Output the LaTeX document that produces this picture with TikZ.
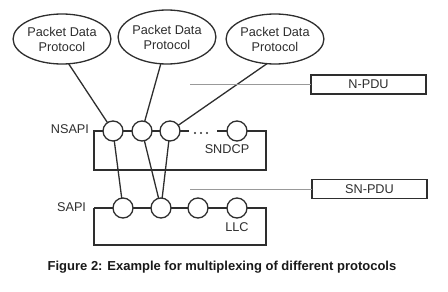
\documentclass[tikz,border=0pt]{standalone}
\usepackage{fontspec}
\setmainfont{Liberation Sans}
\usetikzlibrary{shapes.geometric}
\definecolor{ln}{HTML}{2E2E2E}
\definecolor{gl}{HTML}{999999}
\begin{document}
\begin{tikzpicture}[x=1pt,y=-1pt,
  every node/.style={inner sep=0pt, outer sep=0pt, text=black!82},
  pdp/.style={ellipse, draw=ln, line width=1.3pt, fill=white, minimum width=92pt, minimum height=50pt, align=center, font=\fontsize{12.7}{15}\selectfont},
  sap/.style={circle, draw=ln, line width=1.3pt, fill=white, minimum size=20pt},
  lbl/.style={font=\fontsize{12.7}{15}\selectfont},
  pdu/.style={draw=ln, line width=1.1pt, minimum width=115pt, minimum height=19pt, font=\fontsize{12.7}{15}\selectfont},
  con/.style={draw=ln, line width=1.3pt},
  dotc/.style={circle, fill=ln, minimum size=2.2pt},
  glin/.style={draw=gl, line width=0.9pt}]
\useasboundingbox (0,0) rectangle (448,292);
% boxes
\draw[con] (180,131) -- (189,131);
\draw[con] (217,131) -- (266,131) -- (266,170) -- (94,170) -- (94,131) -- (170,131);
\draw[con] (94,208) -- (94,245) -- (266,245) -- (266,208) -- (94,208);
\node[dotc] (d1) at (195,133) {};
\node[dotc] (d2) at (201,133) {};
\node[dotc] (d3) at (207,133) {};
% ellipses
\node[pdp] (e1) at (62,39) {Packet Data\\Protocol};
\node[pdp, minimum height=54pt] (e2) at (167,37) {Packet Data\\Protocol};
\node[pdp] (e3) at (275,39) {Packet Data\\Protocol};
% NSAPI circles
\node[sap] (n1) at (113,131) {};
\node[sap] (n2) at (142,131) {};
\node[sap] (n3) at (170,131) {};
\node[sap] (n4) at (237,131) {};
% SAPI circles
\node[sap] (s1) at (123,208) {};
\node[sap] (s2) at (161,208) {};
\node[sap] (s3) at (198,208) {};
\node[sap] (s4) at (237,208) {};
% connectors
\draw[con] (e1.-75) -- (n1);
\draw[con] (e2.-103) -- (n2);
\draw[con] (e3.-108) -- (n3);
\draw[con] (n1) -- (s1);
\draw[con] (n2) -- (s2);
\draw[con] (n3) -- (s2);
% labels
\node[lbl, anchor=east] (nsapi) at (89,129) {NSAPI};
\node[lbl, anchor=east] (sapi) at (86,207) {SAPI};
\node[lbl] (sndcp) at (227,149) {SNDCP};
\node[lbl] (llc) at (237,227) {LLC};
% PDU boxes
\node[pdu] (npdu) at (368.5,84.5) {N-PDU};
\node[pdu] (snpdu) at (369.5,189) {SN-PDU};
\coordinate (g1) at (190,84.5);
\coordinate (g2) at (190,189);
\draw[glin] (g1) -- (npdu.west);
\draw[glin] (g2) -- (snpdu.west);
% caption
\node[font=\fontsize{13}{15}\selectfont\bfseries, text=black!90] (cap) at (222,267) {Figure 2: Example for multiplexing of different protocols};
\end{tikzpicture}
\end{document}
